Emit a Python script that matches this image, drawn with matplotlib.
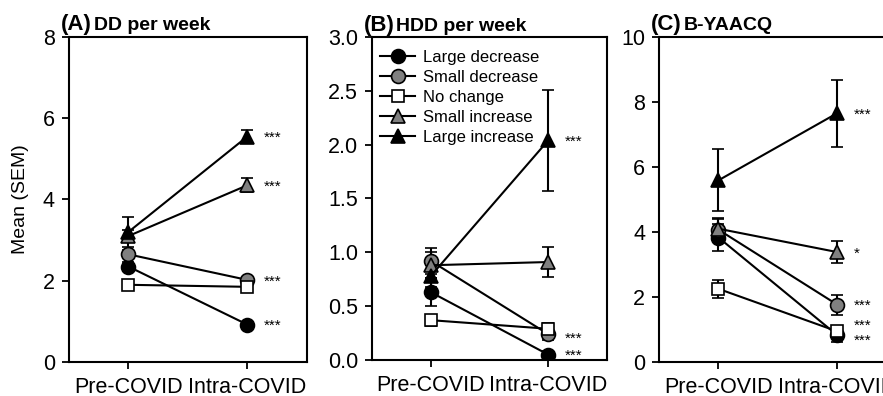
import matplotlib
matplotlib.use("Agg")
import matplotlib.pyplot as plt
from matplotlib.lines import Line2D

plt.rcParams['font.family'] = ['Liberation Sans', 'DejaVu Sans']

# Groups and styles
groups = ['Large decrease', 'Small decrease', 'No change', 'Small increase', 'Large increase']
markers = ['o', 'o', 's', '^', '^']
fills = ['black', 'grey', 'white', 'grey', 'black']
time_labels = ['Pre-COVID', 'Intra-COVID']

# (A) DD per week
dd_pre = [2.35, 2.65, 1.90, 3.10, 3.20]
dd_intra = [0.92, 2.02, 1.85, 4.35, 5.55]
dd_pre_sem = [0.10, 0.10, 0.08, 0.15, 0.37]
dd_intra_sem = [0.06, 0.08, 0.08, 0.17, 0.17]
dd_stars = ['***', '***', '', '***', '***']

# (B) HDD per week
hdd_pre = [0.63, 0.92, 0.37, 0.88, 0.78]
hdd_intra = [0.05, 0.24, 0.29, 0.91, 2.04]
hdd_pre_sem = [0.13, 0.12, 0.05, 0.12, 0.10]
hdd_intra_sem = [0.03, 0.05, 0.05, 0.14, 0.47]
hdd_stars = ['***', '***', '', '', '***']

# (C) B-YAACQ
yaacq_pre = [3.83, 4.07, 2.25, 4.10, 5.59]
yaacq_intra = [0.82, 1.76, 0.94, 3.38, 7.66]
yaacq_pre_sem = [0.42, 0.35, 0.28, 0.30, 0.95]
yaacq_intra_sem = [0.20, 0.30, 0.15, 0.34, 1.03]
yaacq_stars = ['***', '***', '***', '*', '***']

panels = [
    ('(A)', 'DD per week', dd_pre, dd_intra, dd_pre_sem, dd_intra_sem, dd_stars,
     (0, 8), [0, 2, 4, 6, 8], '{:.0f}'),
    ('(B)', 'HDD per week', hdd_pre, hdd_intra, hdd_pre_sem, hdd_intra_sem, hdd_stars,
     (0, 3), [0, 0.5, 1.0, 1.5, 2.0, 2.5, 3.0], '{:.1f}'),
    ('(C)', 'B-YAACQ', yaacq_pre, yaacq_intra, yaacq_pre_sem, yaacq_intra_sem, yaacq_stars,
     (0, 10), [0, 2, 4, 6, 8, 10], '{:.0f}'),
]

# star label nudges (points) where labels would collide
star_nudge = {('(C)', 'Large decrease'): -3, ('(C)', 'No change'): 5, ('(B)', 'Small decrease'): -2}

fig = plt.figure(figsize=(8.83, 3.96), dpi=100)
rects = [
    [0.078, 0.0859, 0.2695, 0.8207],
    [0.4213, 0.0909, 0.2661, 0.8157],
    [0.7463, 0.0859, 0.2695, 0.8207],
]

for rect, (tag, title, pre, intra, pre_sem, intra_sem, stars, ylim, yticks, fmt) in zip(rects, panels):
    ax = fig.add_axes(rect)
    for i, g in enumerate(groups):
        ax.errorbar([1, 2], [pre[i], intra[i]], yerr=[pre_sem[i], intra_sem[i]],
                    fmt='-' + markers[i], color='black', mfc=fills[i], mec='black',
                    ms=10 if markers[i] != 's' else 9, mew=1.2, lw=1.5,
                    elinewidth=1.5, capsize=4.5, capthick=1.5)
        if stars[i]:
            dy = star_nudge.get((tag, g), 0)
            ax.annotate(stars[i], xy=(2, intra[i]), xytext=(12, dy - 1),
                        textcoords='offset points', fontsize=11, va='center', ha='left')
    ax.set_xlim(0.5, 2.5)
    ax.set_ylim(*ylim)
    ax.set_xticks([1, 2])
    ax.set_xticklabels(time_labels)
    ax.set_yticks(yticks)
    ax.set_yticklabels([fmt.format(t) for t in yticks])
    ax.tick_params(direction='out', length=5, width=1.3, labelsize=15.5, pad=5)
    ax.tick_params(axis='x', pad=5.5)
    for s in ax.spines.values():
        s.set_linewidth(1.5)
    ax.text(-0.035, 1.02, tag, transform=ax.transAxes, fontsize=16, fontweight='bold',
            ha='left', va='baseline')
    ax.text(0.104, 1.02, title, transform=ax.transAxes, fontsize=14, fontweight='bold',
            ha='left', va='baseline')
    if tag == '(A)':
        ax.set_ylabel('Mean (SEM)', fontsize=14, labelpad=10)
    if tag == '(B)':
        handles = [Line2D([], [], color='black', lw=1.5, marker=markers[i], mfc=fills[i],
                          mec='black', mew=1.2, ms=10 if markers[i] != 's' else 9)
                   for i in range(len(groups))]
        ax.legend(handles, groups, loc='upper left', frameon=False, fontsize=12,
                  handlelength=2.1, labelspacing=0.3, handletextpad=0.45,
                  borderaxespad=0.1, bbox_to_anchor=(0.0, 0.985))

fig.savefig('out.png', dpi=100)
